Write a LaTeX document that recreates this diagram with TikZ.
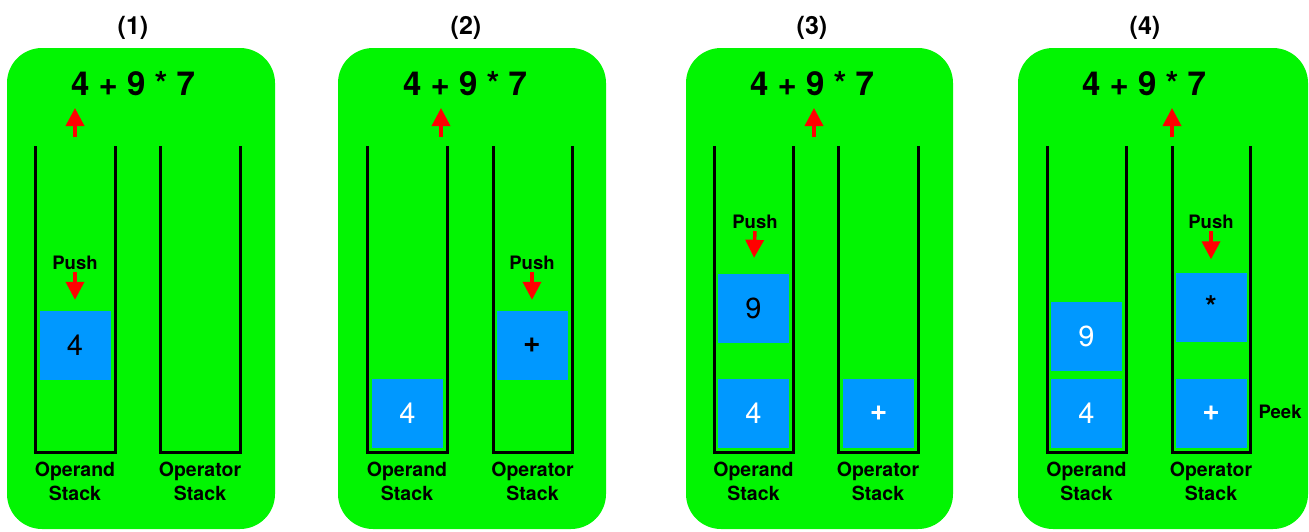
\documentclass[tikz,border=0pt]{standalone}
\usepackage{fontspec}
\setmainfont{TeX Gyre Heros}
\usetikzlibrary{arrows.meta}
\definecolor{panelgreen}{RGB}{2,245,2}
\definecolor{cellblue}{RGB}{0,152,255}
\definecolor{ptrred}{RGB}{255,0,0}

\begin{document}
\begin{tikzpicture}[
	x = 1pt, y = -1pt,
	panel/.style = {fill = panelgreen, rounded corners = 35pt},
	cell/.style = {fill = cellblue, minimum width = 71pt, minimum height = 69pt,
		inner sep = 0pt, text = white, font = \fontsize{29}{29}\selectfont},
	newcell/.style = {cell, text = black},
	opcell/.style = {font = \fontsize{30}{30}\selectfont\bfseries},
	wall/.style = {line width = 3pt},
	title/.style = {font = \fontsize{25}{25}\selectfont\bfseries},
	expr/.style = {inner sep = 0pt, font = \fontsize{33}{33}\selectfont\bfseries},
	caption/.style = {align = center, font = \fontsize{19.5}{24}\selectfont\bfseries},
	pushlbl/.style = {inner sep = 0pt, font = \fontsize{18.5}{18.5}\selectfont\bfseries},
	redarrow/.style = {draw = ptrred, line width = 3.5pt,
		-{Triangle[length = 18pt, width = 18pt]}}
	]
	\useasboundingbox (0,0) rectangle (1309,531);

	% (1)
	\fill[panel] (7,48) rectangle (275,529);
	\node[title] (t1) at (133,28) {(1)};
	\node[expr] (e1) at (133,84) {4 + 9 * 7};
	\draw[wall] (35,146) -- (35,452) -- (115,452) -- (115,146);
	\draw[wall] (160,146) -- (160,452) -- (240,452) -- (240,146);
	\coordinate (p1) at (75,137);
	\draw[redarrow] (p1) -- (75,108);
	\node[pushlbl] (push1) at (75,263) {Push};
	\node[newcell] (a1) at (75,345.5) {4};
	\draw[redarrow, shorten < = 2pt, shorten > = 11pt] (push1.south) -- (a1.north);
	\node[caption] (ca1) at (75,481) {Operand\\Stack};
	\node[caption] (co1) at (200,481) {Operator\\Stack};

	% (2)
	\fill[panel] (338,48) rectangle (606,529);
	\node[title] (t2) at (466,28) {(2)};
	\node[expr] (e2) at (465,84) {4 + 9 * 7};
	\draw[wall] (367,146) -- (367,452) -- (447,452) -- (447,146);
	\draw[wall] (493,146) -- (493,452) -- (572,452) -- (572,146);
	\coordinate (p2) at (441,137);
	\draw[redarrow] (p2) -- (441,108);
	\node[cell] (a2) at (407.5,413.5) {4};
	\node[pushlbl] (push2) at (532,263) {Push};
	\node[newcell, opcell] (o2) at (532,345.5) {+};
	\draw[redarrow, shorten < = 2pt, shorten > = 11pt] (push2.south) -- (o2.north);
	\node[caption] (ca2) at (407,481) {Operand\\Stack};
	\node[caption] (co2) at (532.5,481) {Operator\\Stack};

	% (3)
	\fill[panel] (686,48) rectangle (953,529);
	\node[title] (t3) at (812,28) {(3)};
	\node[expr] (e3) at (812,84) {4 + 9 * 7};
	\draw[wall] (714,146) -- (714,452) -- (793,452) -- (793,146);
	\draw[wall] (838,146) -- (838,452) -- (918,452) -- (918,146);
	\coordinate (p3) at (814,137);
	\draw[redarrow] (p3) -- (814,108);
	\node[cell] (a3) at (753.5,413.5) {4};
	\node[pushlbl] (push3) at (755,222) {Push};
	\node[newcell] (b3) at (753.5,308.5) {9};
	\draw[redarrow, shorten < = 2pt, shorten > = 16pt] (push3.south) -- (b3.north);
	\node[cell, opcell] (o3) at (878.5,413.5) {+};
	\node[caption] (ca3) at (753.5,481) {Operand\\Stack};
	\node[caption] (co3) at (878,481) {Operator\\Stack};

	% (4)
	\fill[panel] (1018,48) rectangle (1308,529);
	\node[title] (t4) at (1145,28) {(4)};
	\node[expr] (e4) at (1144,84) {4 + 9 * 7};
	\draw[wall] (1047,146) -- (1047,452) -- (1126,452) -- (1126,146);
	\draw[wall] (1172,146) -- (1172,452) -- (1250,452) -- (1250,146);
	\coordinate (p4) at (1172,137);
	\draw[redarrow] (p4) -- (1172,108);
	\node[cell] (a4) at (1086.5,413.5) {4};
	\node[cell] (b4) at (1086.5,336.5) {9};
	\node[cell, opcell] (o4) at (1211,413.5) {+};
	\node[pushlbl] (push4) at (1211,222) {Push};
	\node[newcell, opcell] (c4) at (1211,307) {*};
	\draw[redarrow, shorten < = 2pt, shorten > = 13pt] (push4.south) -- (c4.north);
	\node[pushlbl] (peek4) at (1280,412) {Peek};
	\node[caption] (ca4) at (1086.5,481) {Operand\\Stack};
	\node[caption] (co4) at (1211,481) {Operator\\Stack};
\end{tikzpicture}
\end{document}
